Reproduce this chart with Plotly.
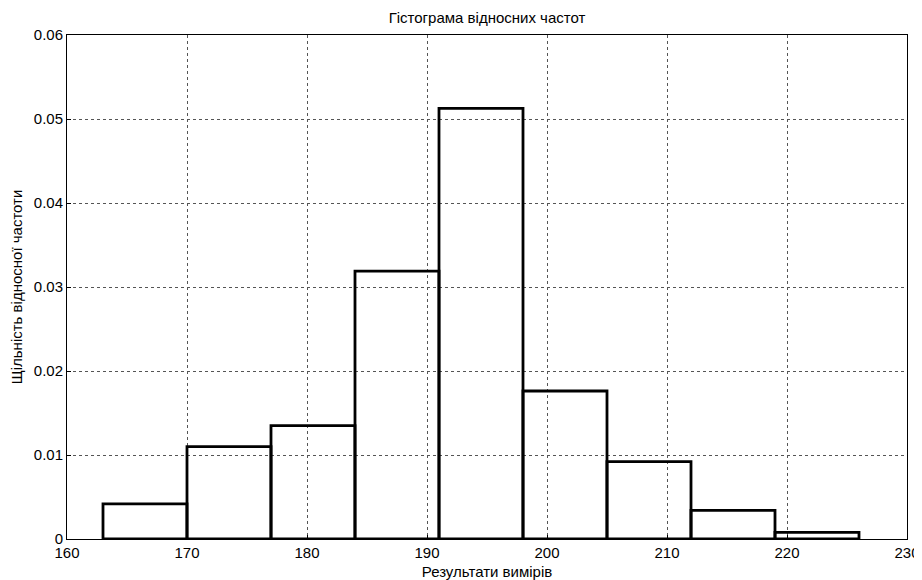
import plotly.graph_objects as go

bin_edges = [163, 170, 177, 184, 191, 198, 205, 212, 219, 226]
densities = [0.00417, 0.01099, 0.01349, 0.0319, 0.05127, 0.01762, 0.0092, 0.00341, 0.0008]
x_ticks = [160, 170, 180, 190, 200, 210, 220, 230]
y_ticks = [0, 0.01, 0.02, 0.03, 0.04, 0.05, 0.06]
y_tick_labels = ["0", "0.01", "0.02", "0.03", "0.04", "0.05", "0.06"]

centers = [(a + b) / 2 for a, b in zip(bin_edges[:-1], bin_edges[1:])]
widths = [b - a for a, b in zip(bin_edges[:-1], bin_edges[1:])]

font = "Liberation Sans, Arial, sans-serif"
FS = 15

# page body has an 8px default margin; figure sized/placed to compensate
W, H = 914, 572

fig = go.Figure(
    go.Bar(
        x=centers,
        y=densities,
        width=widths,
        marker=dict(color="rgba(0,0,0,0)", line=dict(color="black", width=2.8)),
        hoverinfo="x+y",
    )
)

axis_common = dict(
    showline=True,
    linecolor="black",
    linewidth=1,
    mirror=True,
    ticks="inside",
    ticklen=4,
    tickcolor="black",
    showgrid=True,
    gridcolor="#555",
    gridwidth=1,
    griddash="3px,3px",
    zeroline=False,
    automargin=False,
    tickfont=dict(family=font, size=FS, color="black"),
)

fig.update_layout(
    width=W,
    height=H,
    paper_bgcolor="white",
    plot_bgcolor="white",
    margin=dict(l=59, r=15, t=27, b=41),
    showlegend=False,
    title=dict(
        text="Гістограма відносних частот",
        x=(59 + 899) / 2 / W,
        xanchor="center",
        y=1 - 10 / H,
        yanchor="middle",
        automargin=False,
        font=dict(family=font, size=FS, color="black"),
    ),
    xaxis=dict(
        range=[160, 230],
        tickvals=x_ticks,
        title=dict(text="Результати вимірів", font=dict(family=font, size=FS, color="black"), standoff=13),
        **axis_common,
    ),
    yaxis=dict(
        range=[0, 0.06],
        tickvals=y_ticks,
        ticktext=y_tick_labels,
        title=dict(text="Щільність відносної частоти", font=dict(family=font, size=FS, color="black"), standoff=12),
        **axis_common,
    ),
)

fig.write_html("out.html")
